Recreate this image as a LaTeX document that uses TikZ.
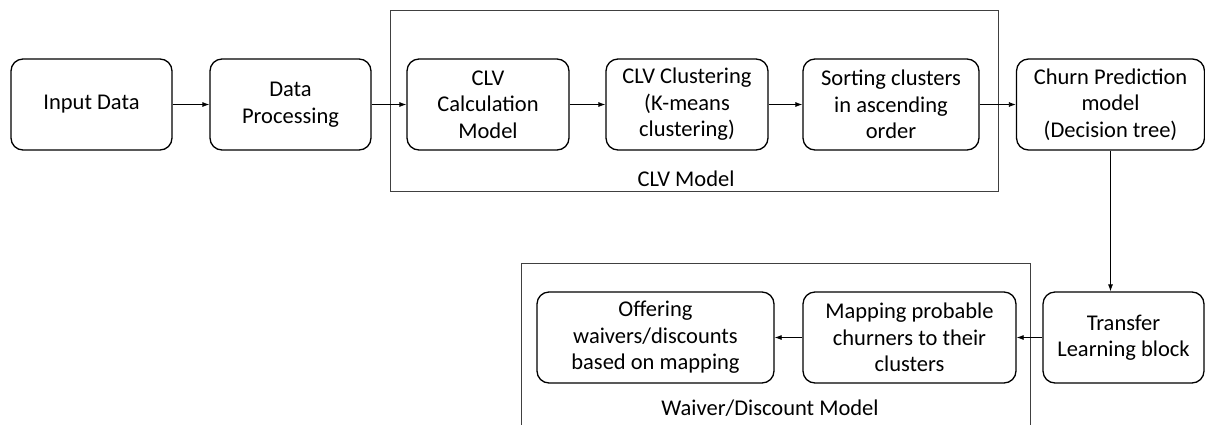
\documentclass[tikz,border=0pt]{standalone}
\usepackage{fontspec}
\setmainfont{Carlito}
\usetikzlibrary{arrows.meta}

\begin{document}
\begin{tikzpicture}[
                x=1pt, y=-1pt,
                block/.style={draw, line width=1.3pt, rounded corners=12pt, minimum height=91pt,
                        align=center, inner sep=2pt, font=\fontsize{22.5}{26.5}\selectfont},
                group/.style={draw=black!75, line width=0.8pt},
                flow/.style={-{Latex[length=7pt,width=5pt]}, line width=0.8pt},
                caption/.style={font=\fontsize{22.5}{26.5}\selectfont}
            ]

            \clip (0,0) rectangle (1205,424);

            \draw[group] (390,10) rectangle (998,191);
            \draw[group] (521,263) rectangle (1030,440);
            \node[caption] (clvlabel) at (686,179) {CLV Model};
            \node[caption] (waiverlabel) at (770,408) {Waiver/Discount Model};

            \node[block, minimum width=161pt] (input) at (91.5,104.5) {Input Data};
            \node[block, minimum width=161pt] (proc) at (290.5,104.5) {Data\\Processing};
            \node[block, minimum width=162pt] (calc) at (488,104.5) {CLV\\Calculation\\Model};
            \node[block, minimum width=162pt] (clust) at (687,104.5) {CLV Clustering\\(K-means\\clustering)};
            \node[block, minimum width=176pt] (sort) at (891,104.5) {Sorting clusters\\in ascending\\order};
            \node[block, minimum width=188pt] (churn) at (1110.5,104.5) {Churn Prediction\\model\\(Decision tree)};
            \node[block, minimum width=161pt] (transfer) at (1123.5,337.5) {Transfer\\Learning block};
            \node[block, minimum width=213pt] (mapping) at (909.5,337.5) {Mapping probable\\churners to their\\clusters};
            \node[block, minimum width=237pt] (offering) at (655.5,337.5) {Offering\\waivers/discounts\\based on mapping};

            \draw[flow] (input) -- (proc);
            \draw[flow] (proc) -- (calc);
            \draw[flow] (calc) -- (clust);
            \draw[flow] (clust) -- (sort);
            \draw[flow] (sort) -- (churn);
            \draw[flow] (churn.south) -- (churn.south |- transfer.north);
            \draw[flow] (transfer) -- (mapping);
            \draw[flow] (mapping) -- (offering);

        \end{tikzpicture}
\end{document}
